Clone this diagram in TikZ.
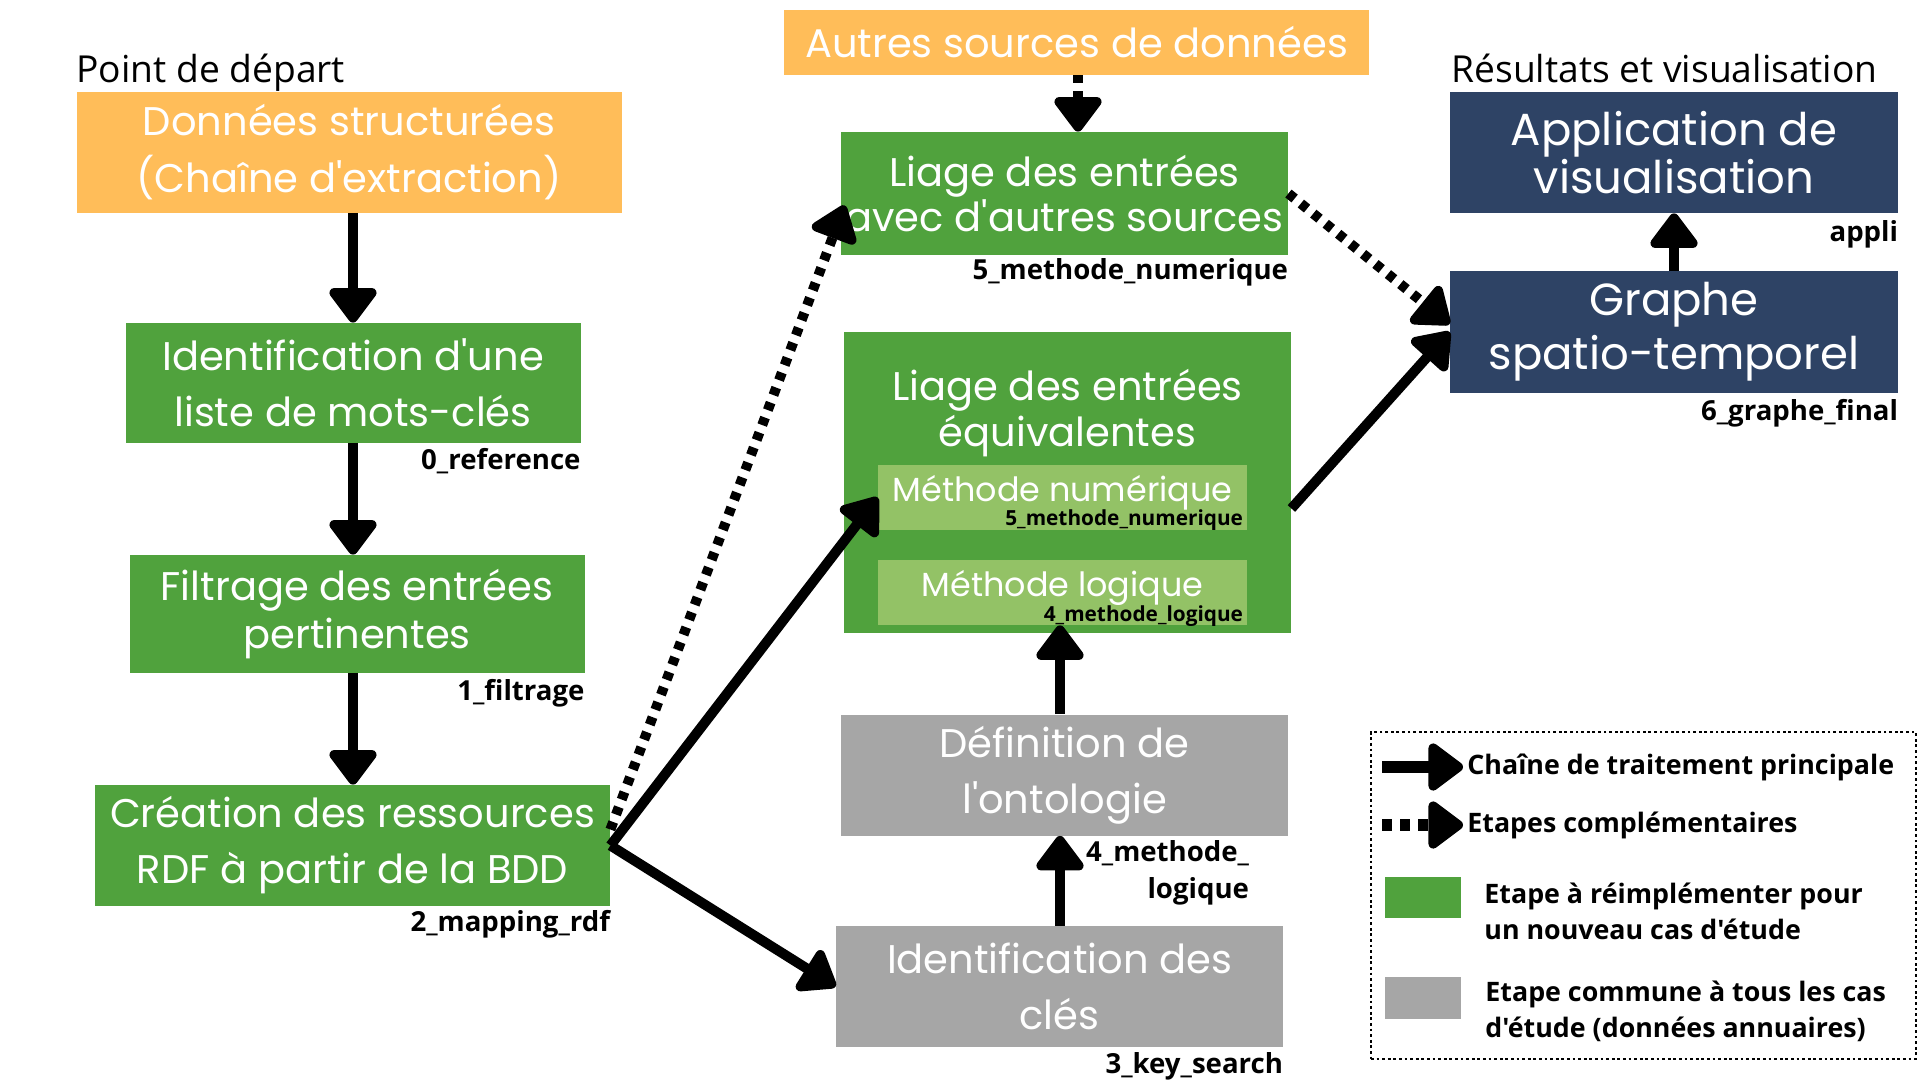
\documentclass[tikz,border=0pt]{standalone}
\usepackage{fontspec}
\newfontfamily\opensans{Open Sans}
\newfontfamily\popfont{Poppins}
\usetikzlibrary{arrows.meta, positioning, calc}

\definecolor{orangebox}{HTML}{FFBD59}
\definecolor{greenbox}{HTML}{50A23D}
\definecolor{lightgreen}{HTML}{93C266}
\definecolor{greybox}{HTML}{A6A6A6}
\definecolor{bluebox}{HTML}{2E4365}

\begin{document}
\begin{tikzpicture}[x=0.5pt, y=-0.5pt,
    box/.style={rectangle, inner sep=0pt, align=center, text=white, font=\popfont\fontsize{20}{28}\selectfont},
    source/.style={box, fill=orangebox},
    stepbox/.style={box, fill=greenbox},
    subbox/.style={box, fill=lightgreen, font=\popfont\fontsize{16.7}{18}\selectfont},
    common/.style={box, fill=greybox},
    result/.style={box, fill=bluebox, font=\popfont\fontsize{22.5}{22.5}\selectfont},
    header/.style={inner sep=0pt, anchor=base west, font=\opensans\fontsize{18.6}{22}\selectfont},
    tag/.style={inner sep=0pt, anchor=base east, font=\opensans\bfseries\fontsize{13.8}{18.5}\selectfont},
    smalltag/.style={inner sep=0pt, anchor=base east, font=\opensans\bfseries\fontsize{10.4}{12}\selectfont},
    legendtext/.style={inner sep=0pt, anchor=west, align=left, font=\opensans\bfseries\fontsize{13.4}{17.7}\selectfont},
    main/.style={-{Triangle[length=19pt, width=27pt, round]}, line width=5pt},
    extra/.style={main, dash pattern=on 4pt off 4pt},
    keyarrow/.style={main, line width=6pt}]

    \fill[white] (0,0) rectangle (1920,1080);
    \useasboundingbox (0,0) rectangle (1920,1080);

    % colonne de gauche
    \node[header] (depart) at (76,83) {Point de départ};
    \node[source, minimum width=272.5pt, minimum height=60.5pt, font=\popfont\fontsize{20}{28.5}\selectfont] (donnees) at (349,152.5) {Données structurées\\(Chaîne d'extraction)};
    \node[stepbox, minimum width=227.5pt, minimum height=60pt] (ident) at (353,383) {Identification d'une\\liste de mots-clés};
    \node[stepbox, minimum width=227.5pt, minimum height=59pt, font=\popfont\fontsize{20}{24}\selectfont] (filtrage) at (357,614) {Filtrage des entrées\\pertinentes};
    \node[stepbox, minimum width=257.5pt, minimum height=60.5pt] (creation) at (352.5,845.5) {Création des ressources\\RDF à partir de la BDD};
    \node[tag] at ([yshift=-13pt]ident.south east) {0\_reference};
    \node[tag] at ([yshift=-13.5pt]filtrage.south east) {1\_filtrage};
    \node[tag] at ([yshift=-12.5pt]creation.south east) {2\_mapping\_rdf};

    % colonne du milieu
    \node[source, minimum width=292.5pt, minimum height=32.5pt] (autres) at (1076.5,42.5) {Autres sources de données};
    \node[stepbox, minimum width=223.5pt, minimum height=61.5pt, font=\popfont\fontsize{20}{17.5}\selectfont] (liageAutres) at (1064.5,193.5) {Liage des entrées\\avec d'autres sources};
    \node[tag] at ([yshift=-12pt]liageAutres.south east) {5\_methode\_numerique};
    \node[stepbox, minimum width=223.5pt, minimum height=150.5pt] (liageEq) at (1067.5,482.5) {};
    \node[box, font=\popfont\fontsize{20}{23}\selectfont] (eqTitre) at (1067.5,413) {Liage des entrées\\équivalentes};
    \node[subbox, minimum width=184.5pt, minimum height=32.5pt] (methNum) at (1062.5,497.5) {};
    \node[subbox, anchor=base] at (1062.5,501) {Méthode numérique};
    \node[smalltag] at ([xshift=-2pt, yshift=2.5pt]methNum.south east) {5\_methode\_numerique};
    \node[subbox, minimum width=184.5pt, minimum height=32.5pt] (methLog) at (1062.5,592.5) {};
    \node[subbox, anchor=base] at (1062.5,596) {Méthode logique};
    \node[smalltag] at ([xshift=-2pt, yshift=2pt]methLog.south east) {4\_methode\_logique};
    \node[common, minimum width=223.5pt, minimum height=60.5pt] (definition) at (1064.5,775) {Définition de\\l'ontologie};
    \node[tag, align=right, anchor=north east] at ([xshift=-19.5pt, yshift=-2pt]definition.south east) {4\_methode\_\\logique};
    \node[common, minimum width=223.5pt, minimum height=60.5pt] (cles) at (1059.5,986.5) {Identification des\\clés};
    \node[tag] at ([yshift=-13pt]cles.south east) {3\_key\_search};

    % colonne de droite
    \node[header] (resultats) at (1451,83) {Résultats et visualisation};
    \node[result, minimum width=224pt, minimum height=60.5pt] (appli) at (1674,152.5) {Application de\\visualisation};
    \node[result, minimum width=224pt, minimum height=61pt, font=\popfont\fontsize{22.5}{27}\selectfont] (graphe) at (1674,332) {Graphe\\spatio-temporel};
    \node[tag] at ([yshift=-14pt]appli.south east) {appli};
    \node[tag] at ([yshift=-13.5pt]graphe.south east) {6\_graphe\_final};

    % fleches
    \draw[main] (donnees.south -| ident.north) -- (ident.north);
    \draw[main] (ident.south) -- (ident.south |- filtrage.north);
    \draw[main] (ident.south |- filtrage.south) -- (ident.south |- creation.north);
    \draw[main] (creation.east) -- (methNum.west);
    \draw[main] (creation.east) -- (cles.west);
    \draw[extra] ([yshift=8pt]creation.east) -- ([xshift=2pt, yshift=-6pt]liageAutres.west);
    \draw[extra] (autres.south -| 1078,0) -- (liageAutres.north -| 1078,0);
    \draw[main] (cles.north -| 1060,0) -- (definition.south -| 1060,0);
    \draw[main] (definition.north -| 1060,0) -- (methLog.south -| 1060,0);
    \draw[extra] (liageAutres.east) -- ([yshift=4pt]graphe.west);
    \draw[main] ([yshift=-13pt]liageEq.east) -- (graphe.west);
    \draw[main] (graphe.north) -- (appli.south);

    % legende
    \node[draw, line width=1.4pt, dash pattern=on 1.4pt off 1.4pt, minimum width=272.5pt, minimum height=163.5pt, inner sep=0pt] (legende) at (1643.5,895.5) {};
    \coordinate (mainA) at (1382,767);
    \coordinate (mainB) at (1463,767);
    \coordinate (extraA) at (1382,825);
    \coordinate (extraB) at (1463,825);
    \draw[keyarrow] (mainA) -- (mainB);
    \draw[keyarrow, dash pattern=on 5pt off 4pt] (extraA) -- (extraB);
    \node[legendtext] at (1467,767) {Chaîne de traitement principale};
    \node[legendtext] at (1467,825) {Etapes complémentaires};
    \node[fill=greenbox, minimum width=38pt, minimum height=20.5pt, inner sep=0pt] (cleVert) at (1423,897.5) {};
    \node[legendtext] at (1484,911.5) {Etape à réimplémenter pour\\un nouveau cas d'étude};
    \node[fill=greybox, minimum width=38pt, minimum height=21pt, inner sep=0pt] (cleGris) at (1423,998) {};
    \node[legendtext] at (1485,1011.5) {Etape commune à tous les cas\\d'étude (données annuaires)};
\end{tikzpicture}
\end{document}
